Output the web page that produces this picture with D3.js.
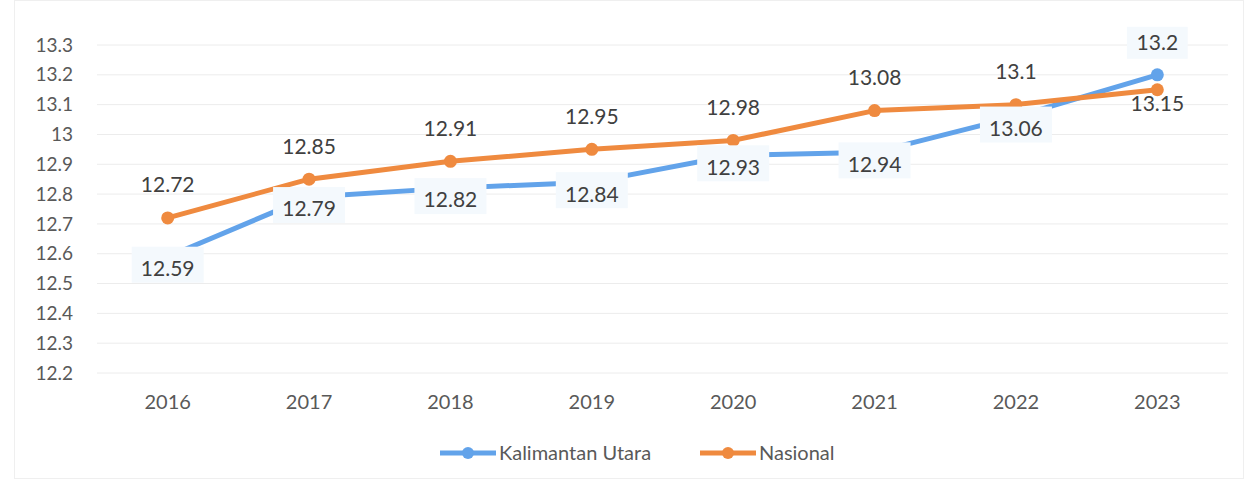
<!DOCTYPE html>
<html>
<head>
<meta charset="utf-8">
<script src="https://cdn.jsdelivr.net/npm/d3@7"></script>
<style>
  body { margin: 0; background: #fff; }
  text { font-family: Lato, "Open Sans", sans-serif; }
</style>
</head>
<body>
<div id="chart"></div>
<script>
// chart values
var years = ["2016", "2017", "2018", "2019", "2020", "2021", "2022", "2023"];
var kaltara = [12.59, 12.79, 12.82, 12.84, 12.93, 12.94, 13.06, 13.2];
var nasional = [12.72, 12.85, 12.91, 12.95, 12.98, 13.08, 13.1, 13.15];
var yTicks = [12.2, 12.3, 12.4, 12.5, 12.6, 12.7, 12.8, 12.9, 13, 13.1, 13.2, 13.3];
var seriesNames = ["Kalimantan Utara", "Nasional"];

var width = 1244, height = 486;
var margin = { top: 45, right: 16, bottom: 113, left: 97 };
var innerW = width - margin.left - margin.right;
var innerH = height - margin.top - margin.bottom;

var blue = "#62a3ea", orange = "#ef8a3f";

var svg = d3.select("#chart").append("svg")
    .attr("width", width)
    .attr("height", height);

// faint chart border
svg.append("rect")
    .attr("x", 14.5).attr("y", 0.5)
    .attr("width", width - 15).attr("height", height - 8)
    .attr("fill", "none")
    .attr("stroke", "#efefef");

var g = svg.append("g")
    .attr("transform", "translate(" + margin.left + "," + margin.top + ")");

var x = d3.scaleBand().domain(years).range([0, innerW]);
var y = d3.scaleLinear().domain([12.2, 13.3]).range([innerH, 0]);
var cx = function(d, i) { return x(years[i]) + x.bandwidth() / 2; };

// gridlines
g.selectAll(".grid")
    .data(yTicks)
    .enter().append("line")
    .attr("x1", 0).attr("x2", innerW)
    .attr("y1", function(d) { return y(d); })
    .attr("y2", function(d) { return y(d); })
    .attr("stroke", "#ececec")
    .attr("stroke-width", 1);

// y axis
var yAxis = g.append("g")
    .call(d3.axisLeft(y).tickValues(yTicks).tickSize(0).tickPadding(24)
        .tickFormat(function(d) { return d3.format("")(+d.toFixed(1)); }));
yAxis.select(".domain").remove();
yAxis.selectAll("text")
    .attr("font-size", 19)
    .attr("fill", "#595959");

// x axis
var xAxis = g.append("g")
    .attr("transform", "translate(0," + innerH + ")")
    .call(d3.axisBottom(x).tickSize(0).tickPadding(22));
xAxis.select(".domain").remove();
xAxis.selectAll("text")
    .attr("font-size", 20)
    .attr("fill", "#595959");

var line = d3.line()
    .x(cx)
    .y(function(d) { return y(d); });

// blue series
g.append("path")
    .datum(kaltara)
    .attr("fill", "none")
    .attr("stroke", blue)
    .attr("stroke-width", 5)
    .attr("stroke-linejoin", "round")
    .attr("d", line);

g.selectAll(".dot-blue")
    .data(kaltara)
    .enter().append("circle")
    .attr("cx", cx)
    .attr("cy", function(d) { return y(d); })
    .attr("r", 6.5)
    .attr("fill", blue);

// orange series
g.append("path")
    .datum(nasional)
    .attr("fill", "none")
    .attr("stroke", orange)
    .attr("stroke-width", 5)
    .attr("stroke-linejoin", "round")
    .attr("d", line);

g.selectAll(".dot-orange")
    .data(nasional)
    .enter().append("circle")
    .attr("cx", cx)
    .attr("cy", function(d) { return y(d); })
    .attr("r", 6.5)
    .attr("fill", orange);

// blue labels (boxed, below the point, last one above)
var blueLab = g.selectAll(".lab-blue")
    .data(kaltara)
    .enter().append("g")
    .attr("transform", function(d, i) {
        var dy = i === kaltara.length - 1 ? -32 : 12;
        return "translate(" + cx(d, i) + "," + (y(d) + dy) + ")";
    });

blueLab.append("rect")
    .attr("x", function(d) { return -(String(d).length * 5.6 + 8); })
    .attr("y", function(d, i) { return i === kaltara.length - 1 ? -16 : -22; })
    .attr("width", function(d) { return String(d).length * 11.2 + 16; })
    .attr("height", function(d, i) { return i === kaltara.length - 1 ? 32 : 36; })
    .attr("fill", "#f4f9fd");

blueLab.append("text")
    .attr("text-anchor", "middle")
    .attr("dy", "0.35em")
    .attr("font-size", 21)
    .attr("fill", "#404040")
    .text(function(d) { return d; });

// orange labels (above the point, last one below)
g.selectAll(".lab-orange")
    .data(nasional)
    .enter().append("text")
    .attr("x", cx)
    .attr("y", function(d, i) { return y(d) + (i === nasional.length - 1 ? 14 : -33); })
    .attr("text-anchor", "middle")
    .attr("dy", "0.35em")
    .attr("font-size", 21)
    .attr("fill", "#404040")
    .text(function(d) { return d; });

// legend
var legend = svg.append("g")
    .attr("transform", "translate(0,453)");

var legendItems = [
    { name: seriesNames[0], color: blue, x: 440 },
    { name: seriesNames[1], color: orange, x: 700 }
];

var li = legend.selectAll(".item")
    .data(legendItems)
    .enter().append("g")
    .attr("transform", function(d) { return "translate(" + d.x + ",0)"; });

li.append("line")
    .attr("x1", 0).attr("x2", 56)
    .attr("stroke", function(d) { return d.color; })
    .attr("stroke-width", 5);

li.append("circle")
    .attr("cx", 28)
    .attr("r", 6)
    .attr("fill", function(d) { return d.color; });

li.append("text")
    .attr("x", 59)
    .attr("dy", "0.35em")
    .attr("font-size", 20)
    .attr("fill", "#595959")
    .text(function(d) { return d.name; });
</script>
</body>
</html>
